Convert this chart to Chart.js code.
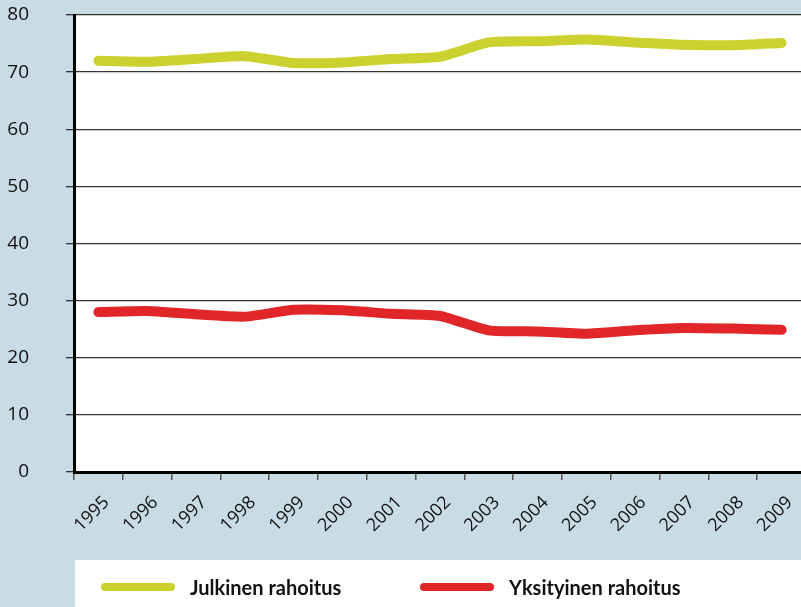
<!DOCTYPE html>
<html>
<head>
<meta charset="utf-8">
<script src="https://cdn.jsdelivr.net/npm/chart.js@4.4.1/dist/chart.umd.min.js"></script>
<style>
  html, body { margin: 0; padding: 0; overflow: hidden; background: #c9dce6; }
  canvas { display: block; }
</style>
</head>
<body>
<canvas id="chart" width="806" height="607"></canvas>
<script>
"use strict";

var years = ['1995', '1996', '1997', '1998', '1999', '2000', '2001', '2002',
    '2003', '2004', '2005', '2006', '2007', '2008', '2009'];
var julkinen = [72.0, 71.8, 72.3, 72.8, 71.6, 71.7, 72.3, 72.7, 75.2, 75.4, 75.7, 75.2, 74.8, 74.7, 75.1];
var yksityinen = [28.0, 28.2, 27.6, 27.2, 28.4, 28.3, 27.7, 27.3, 24.8, 24.6, 24.2, 24.8, 25.2, 25.1, 24.9];
var yTicks = [0, 10, 20, 30, 40, 50, 60, 70, 80];

var seriesNames = ['Julkinen rahoitus', 'Yksityinen rahoitus'];
var green = '#cbd22f';
var red = '#e02628';
var bgBlue = '#c9dce6';

// backgrounds + own legend in white box
var backgroundPlugin = {
    id: 'backgrounds',
    beforeDraw: function (chart) {
        var ctx = chart.ctx;
        var area = chart.chartArea;
        ctx.save();
        ctx.fillStyle = bgBlue;
        ctx.fillRect(0, 0, chart.width, chart.height);
        ctx.fillStyle = '#ffffff';
        ctx.fillRect(area.left, area.top, area.right - area.left, area.bottom - area.top);
        ctx.fillRect(75, 560, chart.width - 75, chart.height - 560);
        ctx.restore();
    },
    afterDraw: function (chart) {
        var ctx = chart.ctx;
        var starts = [101, 420];
        ctx.save();
        chart.data.datasets.forEach(function (ds, i) {
            var x = starts[i];
            ctx.strokeStyle = ds.borderColor;
            ctx.lineWidth = 8;
            ctx.lineCap = 'round';
            ctx.beginPath();
            ctx.moveTo(x + 4, 587);
            ctx.lineTo(x + 70, 587);
            ctx.stroke();
            ctx.fillStyle = '#111111';
            ctx.font = 'bold 20px Lato';
            ctx.textBaseline = 'alphabetic';
            ctx.fillText(ds.label, x + 89, 595);
        });
        ctx.restore();
    }
};

const context = document.getElementById('chart');
const myChart = new Chart(context, {
    type: 'line',
    data: {
        labels: years,
        datasets: [{
            label: seriesNames[0],
            data: julkinen,
            borderColor: green,
            borderWidth: 10,
            borderCapStyle: 'round',
            borderJoinStyle: 'round',
            tension: 0.2,
            pointRadius: 0,
            fill: false
        }, {
            label: seriesNames[1],
            data: yksityinen,
            borderColor: red,
            borderWidth: 10,
            borderCapStyle: 'round',
            borderJoinStyle: 'round',
            tension: 0.2,
            pointRadius: 0,
            fill: false
        }]
    },
    options: {
        responsive: false,
        animation: false,
        devicePixelRatio: 1,
        layout: { padding: { top: 15, right: 0, left: 0, bottom: 0 } },
        plugins: {
            legend: { display: false },
            tooltip: { enabled: false }
        },
        scales: {
            x: {
                offset: true,
                border: { color: '#000000', width: 3 },
                grid: {
                    offset: true,
                    drawOnChartArea: false,
                    drawTicks: true,
                    tickLength: 8,
                    color: '#555555',
                    lineWidth: 1.5
                },
                ticks: {
                    autoSkip: false,
                    maxRotation: 45,
                    minRotation: 45,
                    padding: 12,
                    labelOffset: 8,
                    color: '#111111',
                    font: { family: 'Open Sans', size: 18 }
                },
                afterFit: function (scale) {
                    scale.height = 135;
                    scale.paddingLeft = 0;
                    scale.paddingRight = 0;
                }
            },
            y: {
                min: 0,
                max: 80,
                afterBuildTicks: function (scale) {
                    scale.ticks = yTicks.map(function (v) { return { value: v }; });
                },
                border: { color: '#000000', width: 3 },
                grid: {
                    color: '#333333',
                    lineWidth: 1.3,
                    tickLength: 8
                },
                ticks: {
                    padding: 37,
                    color: '#111111',
                    font: { family: 'Open Sans', size: 19 }
                },
                afterFit: function (scale) {
                    scale.width = 74;
                    scale.paddingTop = 0;
                    scale.paddingBottom = 0;
                }
            }
        }
    },
    plugins: [backgroundPlugin]
});
</script>
</body>
</html>
